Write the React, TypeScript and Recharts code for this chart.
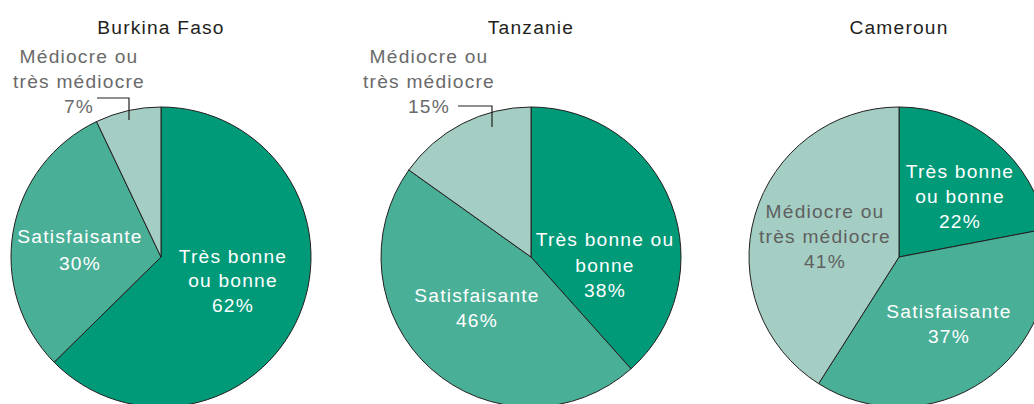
import React from 'react';
import { PieChart, Pie, Cell } from 'recharts';

const categories = ['Très bonne ou bonne', 'Satisfaisante', 'Médiocre ou très médiocre'];
const countries = ['Burkina Faso', 'Tanzanie', 'Cameroun'];
const burkinaValues = [62, 30, 7];
const tanzanieValues = [38, 46, 15];
const camerounValues = [22, 37, 41];

const COLORS = ['#009A78', '#4AAF97', '#A4CEC3'];
const STROKE = '#231F20';
const FONT = '"Liberation Sans", Arial, Helvetica, sans-serif';
const FS = 19.2;
const LS = 1.2;
const W = 1034;
const H = 404;
const R = 150;
const CENTERS = [
  { cx: 161, cy: 257 },
  { cx: 531, cy: 257 },
  { cx: 899, cy: 257 },
];

type LabelCfg = {
  lines: string[];
  dx: number;
  dys: number[];
  color: string;
  leader?: [number, number][];
};

// label layout per country, per category index
const LABELS: LabelCfg[][] = [
  [
    { lines: ['Très bonne', 'ou bonne', '62%'], dx: 72, dys: [6, 30, 55], color: '#fff' },
    { lines: ['Satisfaisante', '30%'], dx: -81, dys: [-14, 13], color: '#fff' },
    {
      lines: ['Médiocre ou', 'très médiocre', '7%'], dx: -82, dys: [-194, -169, -144], color: '#6a6a6a',
      leader: [[-64, -159], [-32, -159], [-32, -137]],
    },
  ],
  [
    { lines: ['Très bonne ou', 'bonne', '38%'], dx: 74, dys: [-11, 15, 40], color: '#fff' },
    { lines: ['Satisfaisante', '46%'], dx: -54, dys: [45, 70], color: '#fff' },
    {
      lines: ['Médiocre ou', 'très médiocre', '15%'], dx: -102, dys: [-194, -169, -144], color: '#6a6a6a',
      leader: [[-73, -151], [-39, -151], [-39, -130]],
    },
  ],
  [
    { lines: ['Très bonne', 'ou bonne', '22%'], dx: 61, dys: [-79, -54, -29], color: '#fff' },
    { lines: ['Satisfaisante', '37%'], dx: 50, dys: [61, 86], color: '#fff' },
    { lines: ['Médiocre ou', 'très médiocre', '41%'], dx: -74, dys: [-39, -14, 11], color: '#5f5f5f' },
  ],
];

const seriesValues = [burkinaValues, tanzanieValues, camerounValues];

const makeLabel = (countryIdx: number) => (props: any) => {
  const cfg = LABELS[countryIdx][props.index];
  const cx = typeof props.cx === 'number' ? props.cx : CENTERS[countryIdx].cx;
  const cy = typeof props.cy === 'number' ? props.cy : CENTERS[countryIdx].cy;
  if (!cfg) return null;
  return (
    <g key={`lbl-${countryIdx}-${props.index}`}>
      {cfg.leader && (
        <polyline
          points={cfg.leader.map(([x, y]) => `${cx + x},${cy + y}`).join(' ')}
          fill="none"
          stroke={STROKE}
          strokeWidth={1.2}
        />
      )}
      {cfg.lines.map((t, i) => (
        <text
          key={i}
          x={cx + cfg.dx}
          y={cy + cfg.dys[i]}
          textAnchor="middle"
          fill={cfg.color}
          fontFamily={FONT}
          fontSize={FS}
          letterSpacing={LS}
        >
          {t}
        </text>
      ))}
    </g>
  );
};

export default function App() {
  return (
    <div style={{ position: 'absolute', left: 0, top: 0, width: W, height: H, background: '#fff', overflow: 'hidden' }}>
      <PieChart width={W} height={H} margin={{ top: 0, right: 0, bottom: 0, left: 0 }}>
        {seriesValues.map((vals, ci) => (
          <Pie
            key={countries[ci]}
            data={categories.map((c, i) => ({ name: c, value: vals[i] }))}
            dataKey="value"
            nameKey="name"
            cx={CENTERS[ci].cx}
            cy={CENTERS[ci].cy}
            outerRadius={R}
            innerRadius={0}
            startAngle={90}
            endAngle={-270}
            stroke={STROKE}
            strokeWidth={1}
            isAnimationActive={false}
            labelLine={false}
            label={makeLabel(ci)}
          >
            {vals.map((_, i) => (
              <Cell key={i} fill={COLORS[i]} />
            ))}
          </Pie>
        ))}
      </PieChart>
      <svg width={W} height={H} style={{ position: 'absolute', left: 0, top: 0, pointerEvents: 'none' }}>
        {countries.map((c, i) => (
          <text
            key={c}
            x={CENTERS[i].cx}
            y={34}
            textAnchor="middle"
            fill={STROKE}
            fontFamily={FONT}
            fontSize={FS}
            letterSpacing={LS}
          >
            {c}
          </text>
        ))}
      </svg>
    </div>
  );
}
